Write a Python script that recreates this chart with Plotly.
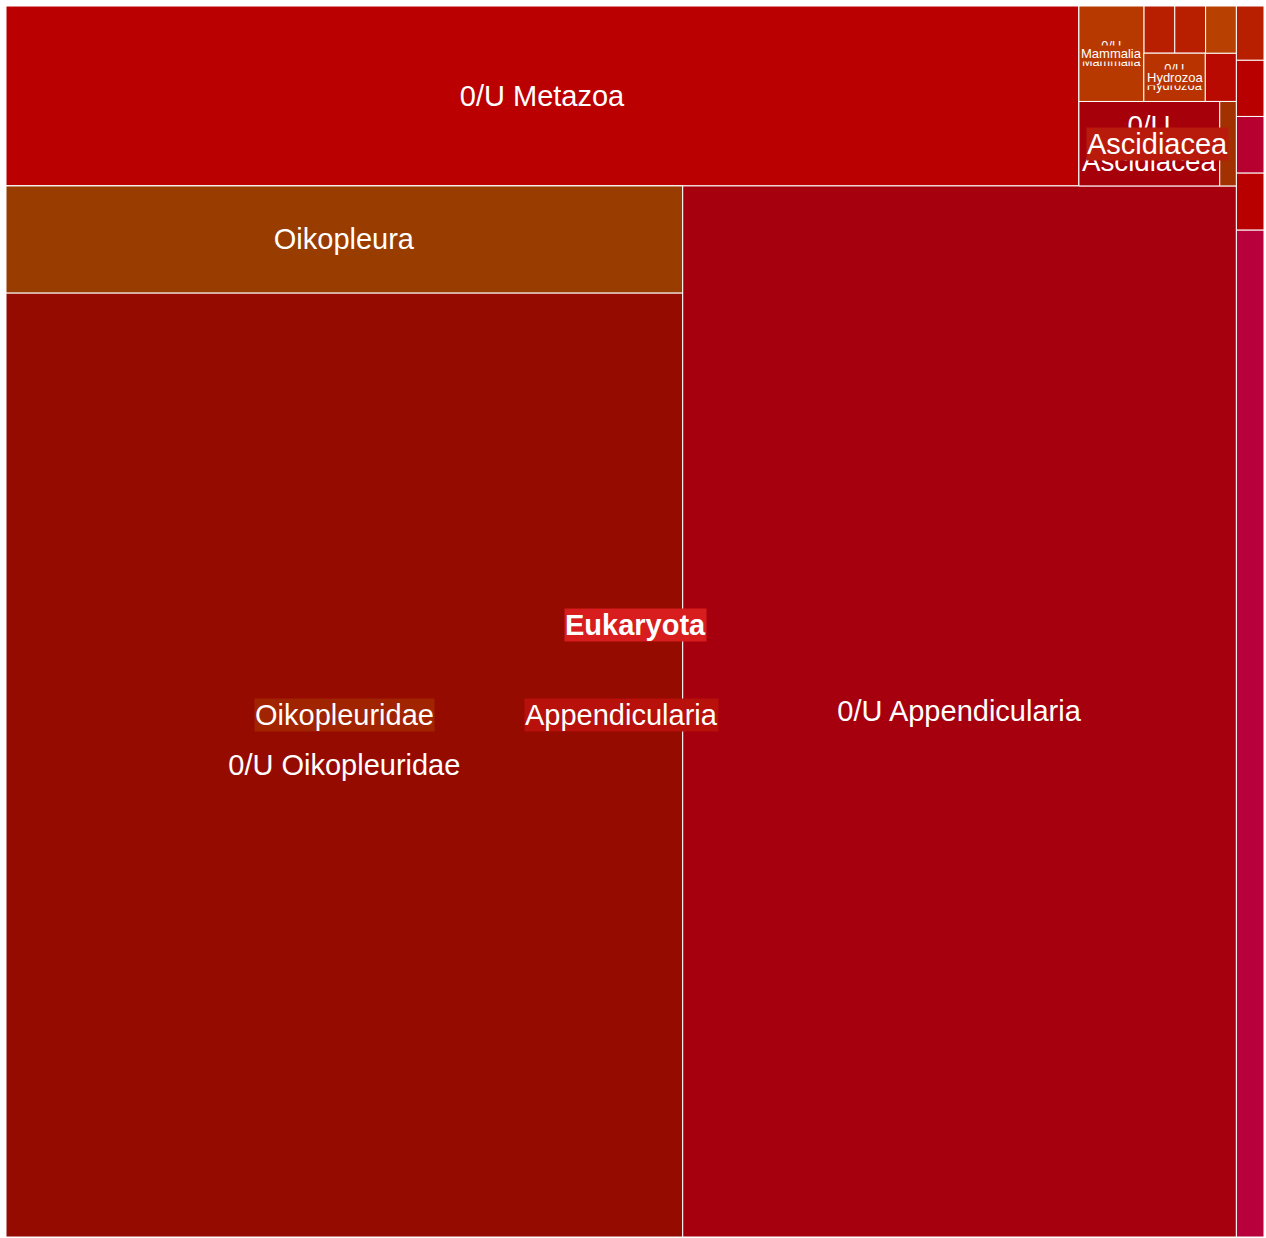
import plotly.graph_objects as go

# ---------------- data ----------------
node_ids = [
    "Eukaryota", "Metazoa", "Appendicularia", "Oikopleuridae",
    "0/U Oikopleuridae", "Oikopleura", "0/U Appendicularia", "0/U Metazoa",
    "Ascidiacea", "0/U Ascidiacea", "Didemnidae",
    "Mammalia", "0/U Mammalia", "Hydrozoa", "0/U Hydrozoa",
    "Hexanauplia", "Sagittoidea", "Thaliacea", "Polychaeta",
    "Dinophyceae", "Bacillariophyta", "Syndiniales", "Prymnesiophyceae", "Chlorophyta",
]
node_parents = [
    "", "Eukaryota", "Metazoa", "Appendicularia",
    "Oikopleuridae", "Oikopleuridae", "Appendicularia", "Metazoa",
    "Metazoa", "Ascidiacea", "Ascidiacea",
    "Metazoa", "Mammalia", "Metazoa", "Hydrozoa",
    "Metazoa", "Metazoa", "Metazoa", "Metazoa",
    "Eukaryota", "Eukaryota", "Eukaryota", "Eukaryota", "Eukaryota",
]
# own (remainder) values; parents carry 0
node_values = [
    0, 0, 0, 0,
    639088, 72439, 582254, 193140,
    0, 11900, 1400,
    0, 6200, 0, 2961,
    1504, 1460, 1455, 1450,
    27900, 1580, 1565, 1560, 1500,
]
# text shown inside leaf cells
leaf_text = {
    "0/U Oikopleuridae": "0/U Oikopleuridae",
    "Oikopleura": "Oikopleura",
    "0/U Appendicularia": "0/U Appendicularia",
    "0/U Metazoa": "0/U Metazoa",
    "0/U Ascidiacea": "0/U<br>Ascidiacea",
    "0/U Mammalia": "0/U<br>Mammalia",
    "0/U Hydrozoa": "0/U<br>Hydrozoa",
}
# parent labels drawn over the cells (bottom to top)
parent_labels = ["Mammalia", "Hydrozoa", "Ascidiacea", "Oikopleuridae", "Appendicularia", "Eukaryota"]

# ---------------- styles ----------------
node_colors = {
    "Eukaryota": "#d71d1d", "Metazoa": "#b80000", "Appendicularia": "#b8100a",
    "Oikopleuridae": "#a12400", "0/U Oikopleuridae": "#960b00", "Oikopleura": "#983c00",
    "0/U Appendicularia": "#a6000f", "0/U Metazoa": "#ba0000",
    "Ascidiacea": "#b81b0c", "0/U Ascidiacea": "#a6000a", "Didemnidae": "#a33000",
    "Mammalia": "#b83900", "0/U Mammalia": "#b83900",
    "Hydrozoa": "#b83300", "0/U Hydrozoa": "#b83300",
    "Hexanauplia": "#b80a00", "Sagittoidea": "#b81e00", "Thaliacea": "#b81e00", "Polychaeta": "#b84000",
    "Dinophyceae": "#b8003c", "Bacillariophyta": "#b80000", "Syndiniales": "#b80030",
    "Prymnesiophyceae": "#b80000", "Chlorophyta": "#b81e00",
}
label_sizes = {"Mammalia": 13, "Hydrozoa": 13}
label_yshift = {"Eukaryota": -3, "Appendicularia": -4, "Oikopleuridae": -4}
FONT = "Liberation Sans, Arial, Helvetica, sans-serif"
FIG_W, FIG_H = 1266, 1238
ML, MR, MT, MB = 6, 2, 6, 1
PW, PH = FIG_W - ML - MR, FIG_H - MT - MB

# ------- replicate the treemap squarify tiling to place parent labels -------
children = {}
for i, p in zip(node_ids, node_parents):
    if p:
        children.setdefault(p, []).append(i)
own = dict(zip(node_ids, node_values))
tot = {}


def total(n):
    tot[n] = own[n] + sum(total(c) for c in children.get(n, []))
    return tot[n]


total("Eukaryota")
rects = {}


def squarify(nodes, x0, y0, x1, y1):
    value = sum(tot[n] for n in nodes)
    i0 = i1 = 0
    n = len(nodes)
    while i0 < n:
        dx, dy = x1 - x0, y1 - y0
        s = tot[nodes[i1]]
        i1 += 1
        while not s and i1 < n:
            s = tot[nodes[i1]]
            i1 += 1
        mn = mx = s
        alpha = max(dy / dx, dx / dy) / value
        beta = s * s * alpha
        best = max(mx / beta, beta / mn)
        while i1 < n:
            v = tot[nodes[i1]]
            s += v
            mn, mx = min(mn, v), max(mx, v)
            beta = s * s * alpha
            r = max(mx / beta, beta / mn)
            if r > best:
                s -= v
                break
            best = r
            i1 += 1
        row = nodes[i0:i1]
        if dx < dy:
            ny = y0 + dy * s / value
            cx = x0
            for m in row:
                w = (x1 - x0) * tot[m] / s
                rects[m] = (cx, y0, cx + w, ny)
                cx += w
            y0 = ny
        else:
            nx = x0 + dx * s / value
            cy = y0
            for m in row:
                h = (y1 - y0) * tot[m] / s
                rects[m] = (x0, cy, nx, cy + h)
                cy += h
            x0 = nx
        value -= s
        i0 = i1


def layout(node):
    kids = sorted(children.get(node, []), key=lambda k: -tot[k])
    if kids:
        squarify(kids, *rects[node])
        for k in kids:
            layout(k)


rects["Eukaryota"] = (0, 0, PW, PH)
layout("Eukaryota")

annotations = []
for name in parent_labels:
    x0, y0, x1, y1 = rects[name]
    size = label_sizes.get(name, 29)
    txt = "<b>%s</b>" % name if name == "Eukaryota" else name
    annotations.append(dict(
        x=(x0 + x1) / 2 / PW, y=(y0 + y1) / 2 / PH, xref="paper", yref="paper",
        yshift=label_yshift.get(name, 0),
        text=txt, showarrow=False, xanchor="center", yanchor="middle",
        font=dict(family=FONT, size=size, color="white"),
        bgcolor=node_colors[name], borderpad=0,
    ))

fig = go.Figure(go.Treemap(
    ids=node_ids,
    labels=node_ids,
    parents=node_parents,
    values=node_values,
    branchvalues="remainder",
    text=[leaf_text.get(i, "") for i in node_ids],
    textinfo="text",
    textposition="middle center",
    textfont=dict(family=FONT, size=29, color="white"),
    marker=dict(colors=[node_colors[i] for i in node_ids],
                line=dict(color="white", width=1),
                pad=dict(t=0, l=0, r=0, b=0)),
    tiling=dict(pad=0, flip="y", packing="squarify", squarifyratio=1),
    pathbar=dict(visible=False),
    sort=True,
    hoverinfo="label+value",
))
fig.update_layout(
    width=FIG_W, height=FIG_H,
    margin=dict(l=ML, r=MR, t=MT, b=MB, pad=0),
    paper_bgcolor="white",
    annotations=annotations,
    showlegend=False,
)
fig.write_html("out.html", config={"displayModeBar": False},
               post_script="document.body.style.margin='0';")
